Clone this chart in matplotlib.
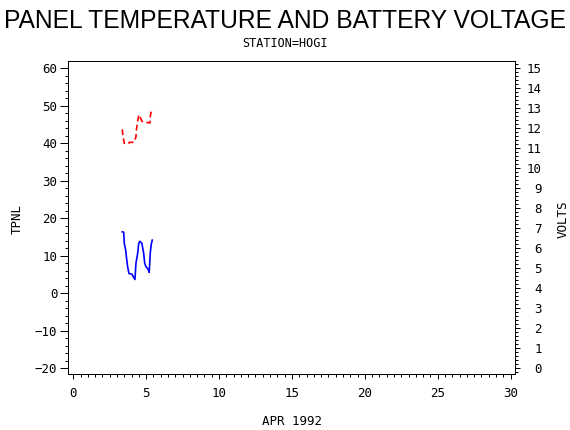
import matplotlib
matplotlib.use("Agg")
import matplotlib.pyplot as plt
from matplotlib.ticker import MultipleLocator

# panel temperature (TPNL), day of April 1992
temp_day = [3.36, 3.46, 3.50, 3.59, 3.66, 3.73, 3.82, 4.03, 4.12, 4.23, 4.30, 4.42,
            4.49, 4.57, 4.71, 4.83, 4.90, 4.99, 5.14, 5.21, 5.28, 5.35, 5.42]
temp_tpnl = [16.4, 16.3, 13.3, 11.7, 9.3, 7.1, 5.3, 5.1, 4.4, 3.7, 8.0, 10.7,
             13.3, 13.9, 13.3, 10.7, 8.0, 7.1, 6.4, 5.6, 10.7, 13.1, 14.2]

# battery voltage
volt_day = [3.36, 3.42, 3.50, 3.82, 3.84, 4.16, 4.30, 4.33, 4.40, 4.49, 4.53, 4.71,
            4.99, 5.26, 5.28, 5.38]
volt_val = [11.95, 11.57, 11.25, 11.25, 11.30, 11.30, 11.57, 11.90, 12.30, 12.62, 12.67, 12.35,
            12.30, 12.27, 12.60, 12.95]

title = "PANEL TEMPERATURE AND BATTERY VOLTAGE"
subtitle = "STATION=HOGI"
xlabel = "APR 1992"
ylabel_left = "TPNL"
ylabel_right = "VOLTS"

MONO = "DejaVu Sans Mono"
PX = 0.72  # one pixel in points at dpi 100


def main():
    fig = plt.figure(figsize=(5.7, 4.3), dpi=100)
    ax = fig.add_axes([68.3 / 570, 1 - 374 / 430, (515 - 68.3) / 570, (374 - 61) / 430])
    ax2 = ax.twinx()

    ax.plot(temp_day, temp_tpnl, color="#0000ff", lw=1.2)
    ax2.plot(volt_day, volt_val, color="#ff0000", lw=1.2, dashes=(3.5, 2))

    ax.set_xlim(-0.34, 30.3)
    ax.set_ylim(-21.5, 61.95)
    ax2.set_ylim(-0.28, 15.365)

    # --- ticks ---
    ax.xaxis.set_major_locator(MultipleLocator(5))
    ax.xaxis.set_minor_locator(MultipleLocator(0.5))
    ax.yaxis.set_major_locator(MultipleLocator(10))
    ax.yaxis.set_minor_locator(MultipleLocator(2))
    ax2.yaxis.set_major_locator(MultipleLocator(1))
    ax2.yaxis.set_minor_locator(MultipleLocator(0.2))

    ax.tick_params(axis="x", which="major", direction="out", length=5.3 * PX, width=1 * PX,
                   pad=8 * PX, labelsize=9)
    ax.tick_params(axis="x", which="minor", direction="out", length=3 * PX, width=1 * PX)
    ax.tick_params(axis="y", which="major", direction="out", length=8 * PX, width=1 * PX,
                   pad=3 * PX, labelsize=9)
    ax.tick_params(axis="y", which="minor", direction="out", length=3 * PX, width=1 * PX)
    ax2.tick_params(axis="y", which="major", direction="out", length=5 * PX, width=1 * PX,
                    pad=22 * PX, labelsize=9)
    ax2.tick_params(axis="y", which="minor", direction="out", length=3 * PX, width=1 * PX)

    for lab in ax.get_xticklabels() + ax.get_yticklabels() + ax2.get_yticklabels():
        lab.set_family(MONO)
    for lab in ax2.get_yticklabels():
        lab.set_horizontalalignment("right")

    for a in (ax, ax2):
        for sp in a.spines.values():
            sp.set_linewidth(1 * PX)

    # --- texts ---
    fig.text(0.5, 1 - 28.3 / 430, title, ha="center", va="baseline",
             family="Liberation Sans", size=17.7)
    fig.text(0.5, 1 - 46.7 / 430, subtitle, ha="center", va="baseline", family=MONO, size=8.5)
    fig.text(291.5 / 570, 1 - 425 / 430, xlabel, ha="center", va="baseline", family=MONO, size=9)
    fig.text(17 / 570, 1 - 219 / 430, ylabel_left, ha="center", va="center", rotation=90,
             family=MONO, size=9)
    fig.text(563 / 570, 1 - 219 / 430, ylabel_right, ha="center", va="center", rotation=90,
             family=MONO, size=9)

    fig.savefig("out.png", dpi=100)


if __name__ == "__main__":
    main()
